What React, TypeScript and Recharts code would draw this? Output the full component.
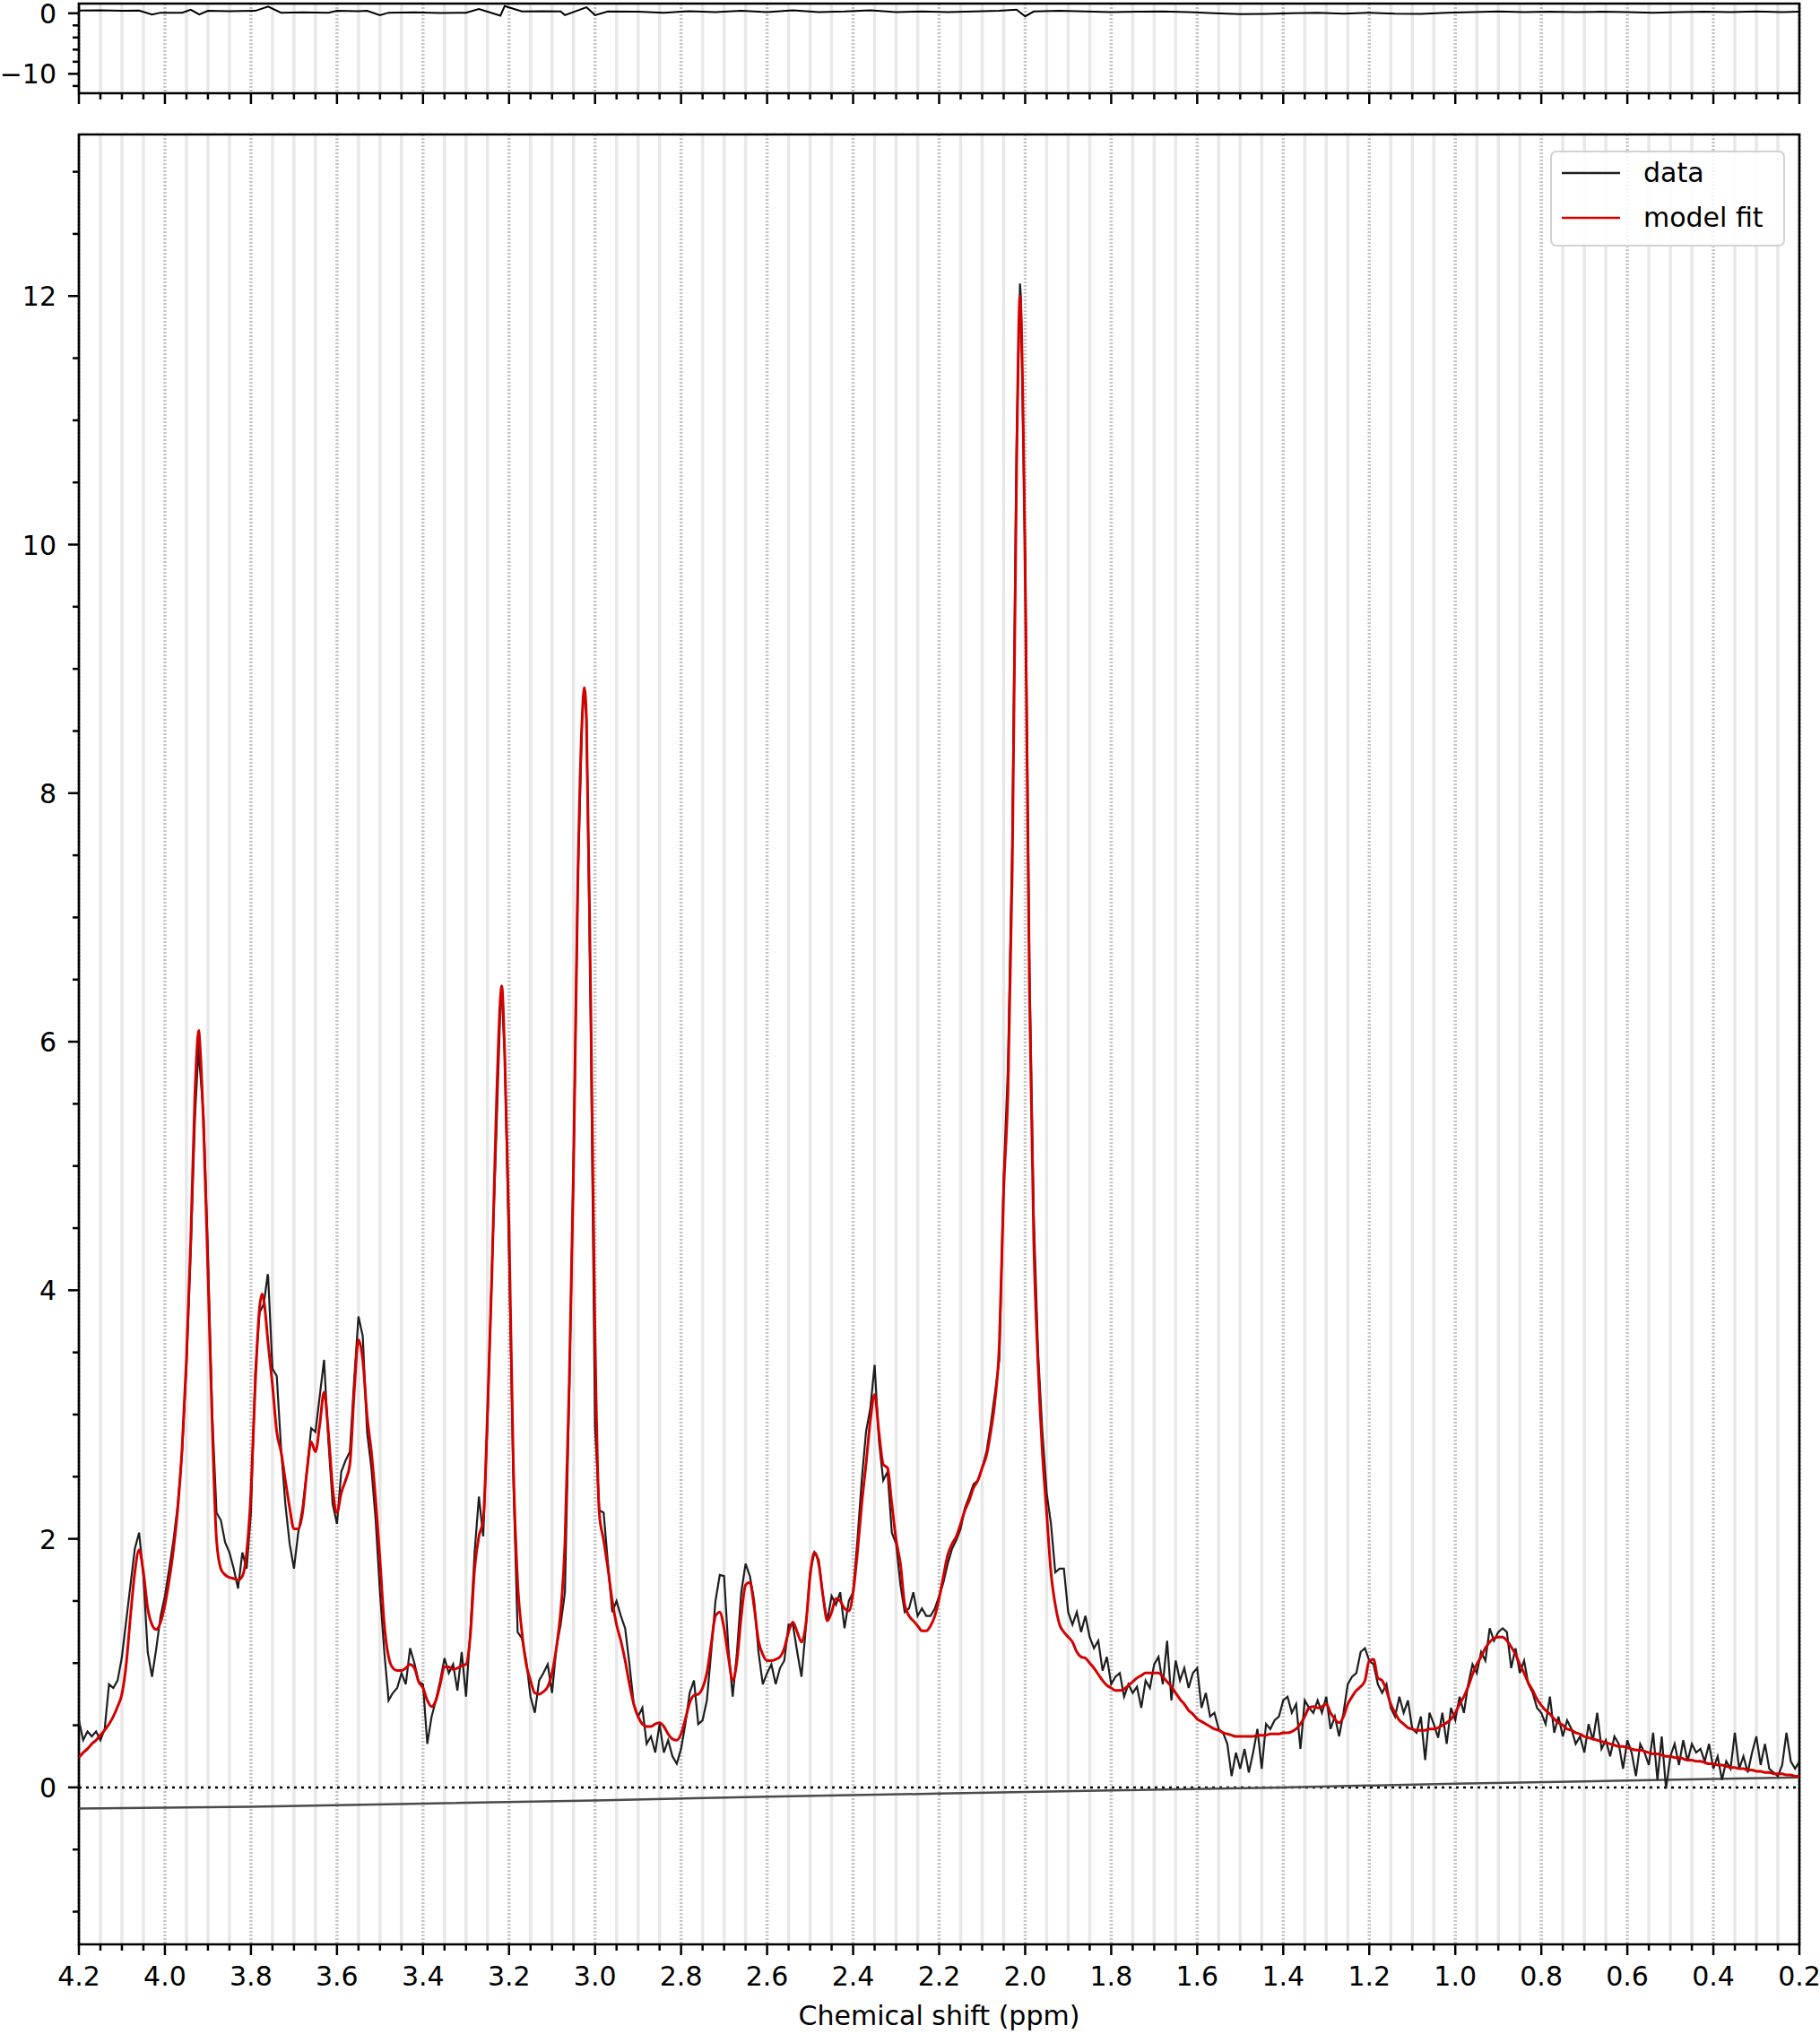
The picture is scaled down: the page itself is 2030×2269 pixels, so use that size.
import React from "react";
import {
  LineChart,
  Line,
  XAxis,
  YAxis,
  CartesianGrid,
  ReferenceLine,
  ReferenceArea,
  Legend,
  Label,
} from "recharts";

const FONT = "'DejaVu Sans', sans-serif";
const DATA_COLOR = "#1e1e1e";
const FIT_COLOR = "#d40000";

// spectrum sampled every 0.01 ppm, from 4.20 down to 0.20
const PPM_MAX = 4.2;
const PPM_MIN = 0.2;
const PPM_STEP = 0.01;

// model fit (red)
const FIT = [
  0.24, 0.28, 0.31, 0.35, 0.38, 0.42, 0.46, 0.51, 0.57, 0.65, // 4.20
  0.75, 0.99, 1.38, 1.73, 1.91, 1.73, 1.44, 1.31, 1.27, 1.33, // 4.10
  1.47, 1.67, 1.92, 2.25, 2.73, 3.44, 4.4, 5.6, 6.05, 5.3, // 4.00
  4.15, 2.92, 1.99, 1.76, 1.71, 1.69, 1.68, 1.67, 1.7, 1.89, // 3.90
  2.37, 3.24, 3.86, 3.92, 3.57, 3.24, 2.86, 2.7, 2.47, 2.25, // 3.80
  2.08, 2.08, 2.21, 2.54, 2.78, 2.7, 2.92, 3.18, 2.86, 2.41, // 3.70
  2.21, 2.37, 2.47, 2.6, 3.18, 3.6, 3.44, 2.99, 2.7, 2.31, // 3.60
  1.83, 1.31, 1.05, 0.96, 0.94, 0.94, 0.96, 0.99, 0.96, 0.85, // 3.50
  0.8, 0.7, 0.65, 0.7, 0.83, 0.97, 0.97, 0.95, 0.96, 0.98, // 3.40
  0.99, 1.22, 1.76, 2.02, 2.15, 3.02, 4.1, 5.4, 6.35, 5.9, // 3.30
  4.5, 2.6, 1.65, 1.25, 0.99, 0.86, 0.76, 0.75, 0.77, 0.81, // 3.20
  0.92, 1.12, 1.41, 1.96, 3.24, 5.0, 7.3, 8.6, 8.6, 6.3, // 3.10
  3.6, 2.2, 1.99, 1.76, 1.5, 1.31, 1.18, 1.02, 0.83, 0.67, // 3.00
  0.57, 0.51, 0.49, 0.49, 0.51, 0.52, 0.49, 0.43, 0.39, 0.38, // 2.90
  0.43, 0.55, 0.68, 0.74, 0.75, 0.8, 0.92, 1.15, 1.38, 1.41, // 2.80
  1.28, 1.05, 0.86, 1.02, 1.38, 1.63, 1.65, 1.45, 1.18, 1.07, // 2.70
  1.02, 1.02, 1.03, 1.05, 1.12, 1.25, 1.33, 1.25, 1.17, 1.31, // 2.60
  1.7, 1.89, 1.8, 1.54, 1.34, 1.41, 1.52, 1.5, 1.44, 1.42, // 2.50
  1.57, 1.89, 2.28, 2.6, 2.95, 3.16, 2.86, 2.6, 2.57, 2.28, // 2.40
  1.99, 1.8, 1.47, 1.38, 1.34, 1.3, 1.26, 1.26, 1.3, 1.38, // 2.30
  1.52, 1.7, 1.87, 1.96, 2.02, 2.12, 2.23, 2.31, 2.41, 2.47, // 2.20
  2.57, 2.67, 2.86, 3.12, 3.57, 4.8, 5.6, 7.4, 10.6, 11.9, // 2.10
  9.8, 6.4, 4.4, 3.4, 2.7, 2.21, 1.73, 1.47, 1.31, 1.25, // 2.00
  1.21, 1.17, 1.09, 1.05, 1.04, 1.0, 0.96, 0.91, 0.86, 0.82, // 1.90
  0.8, 0.78, 0.78, 0.79, 0.82, 0.85, 0.88, 0.9, 0.92, 0.92, // 1.80
  0.92, 0.92, 0.89, 0.85, 0.81, 0.76, 0.71, 0.67, 0.62, 0.59, // 1.70
  0.55, 0.53, 0.51, 0.49, 0.47, 0.46, 0.44, 0.43, 0.42, 0.41, // 1.60
  0.41, 0.41, 0.41, 0.41, 0.42, 0.42, 0.42, 0.43, 0.43, 0.43, // 1.50
  0.44, 0.44, 0.45, 0.47, 0.51, 0.57, 0.64, 0.65, 0.64, 0.65, // 1.40
  0.67, 0.6, 0.55, 0.52, 0.57, 0.67, 0.73, 0.78, 0.81, 0.86, // 1.30
  1.02, 1.03, 0.88, 0.86, 0.78, 0.67, 0.6, 0.54, 0.51, 0.48, // 1.20
  0.47, 0.46, 0.46, 0.46, 0.47, 0.47, 0.48, 0.5, 0.52, 0.55, // 1.10
  0.6, 0.67, 0.73, 0.81, 0.91, 0.99, 1.05, 1.12, 1.17, 1.2, // 1.00
  1.21, 1.21, 1.18, 1.13, 1.07, 0.99, 0.92, 0.84, 0.78, 0.71, // 0.90
  0.66, 0.62, 0.59, 0.55, 0.52, 0.5, 0.47, 0.46, 0.44, 0.43, // 0.80
  0.41, 0.4, 0.39, 0.38, 0.37, 0.36, 0.35, 0.34, 0.33, 0.33, // 0.70
  0.32, 0.31, 0.3, 0.3, 0.29, 0.28, 0.27, 0.27, 0.26, 0.25, // 0.60
  0.25, 0.24, 0.24, 0.23, 0.22, 0.22, 0.21, 0.21, 0.2, 0.19, // 0.50
  0.19, 0.18, 0.18, 0.17, 0.16, 0.16, 0.15, 0.15, 0.14, 0.14, // 0.40
  0.13, 0.13, 0.12, 0.12, 0.11, 0.11, 0.11, 0.1, 0.1, 0.09, // 0.30
  0.09, // 0.20
];

// measured spectrum (black)
const DATA = [
  0.54, 0.38, 0.45, 0.41, 0.45, 0.38, 0.47, 0.83, 0.8, 0.86, // 4.20
  1.05, 1.34, 1.63, 1.92, 2.05, 1.7, 1.09, 0.89, 1.12, 1.38, // 4.10
  1.54, 1.76, 1.99, 2.28, 2.7, 3.4, 4.31, 5.4, 5.85, 5.4, // 4.00
  4.3, 3.0, 2.21, 2.15, 1.97, 1.89, 1.76, 1.6, 1.89, 1.76, // 3.90
  2.21, 3.34, 3.82, 3.89, 4.11, 3.37, 3.31, 2.73, 2.28, 1.96, // 3.80
  1.76, 2.05, 2.25, 2.54, 2.89, 2.86, 3.15, 3.44, 2.79, 2.28, // 3.70
  2.12, 2.54, 2.63, 2.7, 3.28, 3.79, 3.63, 2.86, 2.57, 2.15, // 3.60
  1.57, 1.09, 0.7, 0.76, 0.8, 0.92, 0.83, 1.12, 1.0, 0.85, // 3.50
  0.83, 0.35, 0.57, 0.7, 0.86, 1.04, 0.92, 0.99, 0.78, 1.09, // 3.40
  0.73, 1.25, 1.89, 2.34, 2.02, 2.95, 4.15, 5.2, 6.3, 5.9, // 3.30
  4.3, 2.5, 1.25, 1.2, 1.02, 0.73, 0.6, 0.86, 0.92, 0.99, // 3.20
  0.76, 1.12, 1.31, 1.57, 3.18, 5.0, 7.3, 8.6, 8.6, 6.2, // 3.10
  2.9, 2.23, 2.21, 1.8, 1.41, 1.5, 1.38, 1.28, 0.99, 0.67, // 3.00
  0.57, 0.64, 0.35, 0.41, 0.28, 0.51, 0.28, 0.38, 0.25, 0.19, // 2.90
  0.31, 0.51, 0.76, 0.86, 0.51, 0.54, 0.7, 1.09, 1.5, 1.71, // 2.80
  1.7, 1.12, 0.73, 1.09, 1.57, 1.8, 1.7, 1.5, 1.09, 0.83, // 2.70
  0.92, 0.99, 0.83, 0.96, 1.02, 1.31, 1.31, 1.09, 0.89, 1.28, // 2.60
  1.73, 1.89, 1.83, 1.54, 1.34, 1.54, 1.47, 1.57, 1.28, 1.5, // 2.50
  1.57, 1.99, 2.47, 2.86, 3.05, 3.4, 2.79, 2.47, 2.54, 2.05, // 2.40
  1.96, 1.63, 1.41, 1.44, 1.57, 1.38, 1.44, 1.38, 1.38, 1.44, // 2.30
  1.54, 1.65, 1.8, 1.92, 1.99, 2.08, 2.25, 2.34, 2.44, 2.47, // 2.20
  2.57, 2.7, 2.92, 3.18, 3.44, 4.9, 5.8, 7.6, 10.8, 12.0, // 2.10
  9.9, 6.6, 4.6, 3.5, 2.86, 2.37, 2.12, 1.73, 1.76, 1.76, // 2.00
  1.41, 1.31, 1.41, 1.25, 1.38, 1.21, 1.12, 1.18, 0.94, 1.05, // 1.90
  0.83, 0.89, 0.92, 0.73, 0.83, 0.76, 0.81, 0.64, 0.86, 0.8, // 1.80
  0.99, 1.05, 0.83, 1.18, 0.7, 1.02, 0.86, 0.96, 0.8, 0.92, // 1.70
  0.96, 0.64, 0.76, 0.57, 0.6, 0.47, 0.44, 0.35, 0.09, 0.28, // 1.60
  0.15, 0.31, 0.12, 0.28, 0.47, 0.15, 0.51, 0.47, 0.54, 0.57, // 1.50
  0.7, 0.73, 0.6, 0.67, 0.31, 0.7, 0.64, 0.6, 0.7, 0.6, // 1.40
  0.73, 0.47, 0.57, 0.41, 0.6, 0.83, 0.89, 0.92, 1.09, 1.12, // 1.30
  1.02, 0.99, 0.83, 0.76, 0.83, 0.64, 0.57, 0.73, 0.6, 0.7, // 1.20
  0.47, 0.44, 0.57, 0.22, 0.6, 0.51, 0.4, 0.6, 0.35, 0.64, // 1.10
  0.54, 0.73, 0.6, 0.83, 0.99, 0.92, 1.09, 1.02, 1.28, 1.18, // 1.00
  1.25, 1.28, 1.25, 0.96, 1.12, 0.92, 1.02, 0.83, 0.76, 0.64, // 0.90
  0.6, 0.51, 0.73, 0.44, 0.57, 0.41, 0.54, 0.47, 0.35, 0.41, // 0.80
  0.28, 0.51, 0.38, 0.6, 0.31, 0.38, 0.25, 0.41, 0.35, 0.15, // 0.70
  0.38, 0.28, 0.09, 0.35, 0.28, 0.18, 0.44, 0.06, 0.41, -0.01, // 0.60
  0.25, 0.35, 0.18, 0.38, 0.21, 0.35, 0.28, 0.31, 0.21, 0.35, // 0.50
  0.15, 0.25, 0.06, 0.21, 0.15, 0.44, 0.15, 0.25, 0.12, 0.28, // 0.40
  0.41, 0.18, 0.35, 0.15, 0.12, 0.09, 0.18, 0.44, 0.21, 0.15, // 0.30
  0.21, // 0.20
];

// tops of the narrow peaks, [ppm, value]
const FIT_APEX = [
  [3.921, 6.09],
  [3.774, 3.97],
  [3.217, 6.45],
  [3.025, 8.85],
  [2.012, 12.0],
];
const DATA_APEX = [
  [3.921, 6.0],
  [3.761, 4.13],
  [3.217, 6.4],
  [3.025, 8.85],
  [2.012, 12.1],
];

// fitted baseline (thin grey line under the spectrum)
const BASELINE = [
  [4.2, -0.17], [3.8, -0.155], [3.4, -0.13], [3.0, -0.105], [2.6, -0.075],
  [2.2, -0.05], [1.8, -0.025], [1.4, 0.0], [1.0, 0.03], [0.6, 0.055], [0.2, 0.08],
];

// residual shown in the small top panel
const RESIDUAL = [
  [4.2, 0.45], [4.15, 0.5], [4.1, 0.4], [4.06, 0.45], [4.03, -0.2], [4.01, 0.1],
  [3.96, 0.1], [3.94, 0.6], [3.92, -0.2], [3.9, 0.4], [3.85, 0.35], [3.79, 0.4],
  [3.76, 1.1], [3.73, 0.1], [3.68, 0.15], [3.62, 0.1], [3.6, 0.4], [3.55, 0.35],
  [3.53, 0.4], [3.5, -0.3], [3.48, 0.1], [3.42, 0.15], [3.36, 0.05], [3.3, 0.1],
  [3.27, 0.7], [3.22, -0.4], [3.21, 1.2], [3.17, 0.3], [3.12, 0.35], [3.08, 0.3],
  [3.07, -0.3], [3.02, 1.0], [3.0, -0.3], [2.97, 0.3], [2.9, 0.25], [2.84, 0.1],
  [2.78, 0.35], [2.72, 0.2], [2.66, 0.4], [2.6, 0.2], [2.54, 0.5], [2.48, 0.2],
  [2.42, 0.3], [2.36, 0.5], [2.3, 0.2], [2.24, 0.3], [2.18, 0.2], [2.12, 0.3],
  [2.06, 0.4], [2.02, 0.6], [2.0, -0.5], [1.98, 0.3], [1.92, 0.4], [1.86, 0.3],
  [1.8, 0.2], [1.74, 0.25], [1.68, 0.3], [1.62, 0.2], [1.56, 0.0], [1.5, -0.15],
  [1.44, -0.1], [1.38, 0.0], [1.32, 0.1], [1.26, -0.05], [1.2, 0.1], [1.14, -0.05],
  [1.08, -0.1], [1.02, 0.1], [0.96, 0.2], [0.9, 0.3], [0.84, 0.2], [0.78, 0.25],
  [0.72, 0.2], [0.66, 0.25], [0.6, 0.2], [0.54, 0.1], [0.48, 0.2], [0.42, 0.25],
  [0.36, 0.2], [0.3, 0.3], [0.24, 0.2], [0.2, 0.25],
];

const X_MAJOR = [4.2, 4.0, 3.8, 3.6, 3.4, 3.2, 3.0, 2.8, 2.6, 2.4, 2.2, 2.0, 1.8, 1.6, 1.4, 1.2, 1.0, 0.8, 0.6, 0.4, 0.2];
const Y_MAIN_LABELS = [0, 2, 4, 6, 8, 10, 12];
const Y_RES_LABELS = [0, -10];
const Y_MAIN_DOMAIN = [-1.263, 13.3];
const Y_RES_DOMAIN = [-13.2, 1.6];

const LEGEND_ITEMS = [
  { label: "data", color: DATA_COLOR },
  { label: "model fit", color: FIT_COLOR },
];

// ---- helpers
const r3 = (v: number) => Math.round(v * 1000) / 1000;
const near = (a: number, b: number) => Math.abs(a - b) < 1e-6;

// minor ticks: every 0.05 ppm / every 0.5 (main) / every 2 (residual)
const X_TICKS: number[] = [];
for (let i = 4; i <= 84; i++) X_TICKS.push(r3(i * 0.05));
const X_MINOR = X_TICKS.filter((v) => !X_MAJOR.some((m) => near(m, v)));
const Y_MAIN_TICKS: number[] = [];
for (let i = -2; i <= 26; i++) Y_MAIN_TICKS.push(i * 0.5);
const Y_RES_TICKS = [-12, -10, -8, -6, -4, -2, 0];

const toSeries = (vals: number[], apex: number[][]) =>
  [
    ...vals.map((y, i) => ({ x: r3(PPM_MAX - i * PPM_STEP), y })),
    ...apex.map(([x, y]) => ({ x, y })),
  ].sort((a, b) => b.x - a.x);
const pairs = (arr: number[][]) => arr.map(([x, y]) => ({ x, y }));

const fitSeries = toSeries(FIT, FIT_APEX);
const dataSeries = toSeries(DATA, DATA_APEX);
const baseSeries = pairs(BASELINE);
const resSeries = pairs(RESIDUAL);

const gridAt = (vals: number[]) => ({ xAxis, offset }: any) => {
  if (xAxis && typeof xAxis.scale === "function") return vals.map((v) => xAxis.scale(v));
  return vals.map((v) => offset.left + ((PPM_MAX - v) / (PPM_MAX - PPM_MIN)) * offset.width);
};

const XTick = ({ x, y, payload, showLabel }: any) => {
  const v = payload.value;
  const major = X_MAJOR.some((m) => near(m, v));
  return (
    <g>
      <line x1={x} x2={x} y1={y} y2={y + (major ? 12 : 7)} stroke="#000" strokeWidth={2.5} />
      {showLabel && major && (
        <text x={x} y={y + 46} textAnchor="middle" fontSize={30} fontFamily={FONT} fill="#000">
          {v.toFixed(1)}
        </text>
      )}
    </g>
  );
};

const YTick = ({ x, y, payload, labels }: any) => {
  const v = payload.value;
  const major = labels.some((m: number) => near(m, v));
  return (
    <g>
      <line x1={x - (major ? 12 : 7)} x2={x} y1={y} y2={y} stroke="#000" strokeWidth={2.5} />
      {major && (
        <text x={x - 25} y={y + 11} textAnchor="end" fontSize={30} fontFamily={FONT} fill="#000">
          {String(v).replace("-", "\u2212")}
        </text>
      )}
    </g>
  );
};

const LegendBox = () => (
  <div
    style={{
      width: 262,
      height: 107,
      boxSizing: "border-box",
      border: "2px solid #d2d2d2",
      borderRadius: 7,
      background: "rgba(255,255,255,0.85)",
    }}
  >
    <svg width={258} height={103}>
      {LEGEND_ITEMS.map((it, i) => (
        <g key={it.label}>
          <line x1={11} x2={76} y1={23 + i * 50} y2={23 + i * 50} stroke={it.color} strokeWidth={2.5} />
          <text x={102} y={33 + i * 50} fontSize={30} fontFamily={FONT} fill="#000">
            {it.label}
          </text>
        </g>
      ))}
    </svg>
  </div>
);

export default function App() {
  const frame = { fill: "none", stroke: "#000", strokeWidth: 2.6, fillOpacity: 0 };
  return (
    <div style={{ position: "absolute", left: 0, top: 0, width: 2030, height: 2269, background: "#fff", fontFamily: FONT }}>
      {/* residual panel */}
      <div style={{ position: "absolute", left: 0, top: 0 }}>
        <LineChart width={2030} height={140} margin={{ top: 4, right: 23, bottom: 0, left: 0 }}>
          <CartesianGrid horizontal={false} verticalCoordinatesGenerator={gridAt(X_MINOR)} stroke="#e8e8e8" strokeWidth={3.5} />
          <CartesianGrid horizontal={false} verticalCoordinatesGenerator={gridAt(X_MAJOR)} stroke="#c4c4c4" strokeWidth={3.5} strokeDasharray="2 2" />
          <XAxis
            dataKey="x"
            type="number"
            domain={[PPM_MIN, PPM_MAX]}
            reversed
            ticks={X_TICKS}
            interval={0}
            height={36}
            tickSize={0}
            tickMargin={0}
            tickLine={false}
            axisLine={false}
            tick={(p: any) => <XTick {...p} showLabel={false} />}
            allowDataOverflow
          />
          <YAxis
            type="number"
            domain={Y_RES_DOMAIN}
            ticks={Y_RES_TICKS}
            interval={0}
            width={88}
            tickSize={0}
            tickMargin={0}
            tickLine={false}
            axisLine={false}
            tick={(p: any) => <YTick {...p} labels={Y_RES_LABELS} />}
            allowDataOverflow
          />
          <Line data={resSeries} dataKey="y" type="linear" stroke="#000" strokeWidth={2} dot={false} activeDot={false} isAnimationActive={false} />
          <ReferenceArea x1={PPM_MAX} x2={PPM_MIN} y1={Y_RES_DOMAIN[0]} y2={Y_RES_DOMAIN[1]} {...frame} ifOverflow="visible" />
        </LineChart>
      </div>

      {/* main spectrum panel */}
      <div style={{ position: "absolute", left: 0, top: 140 }}>
        <LineChart width={2030} height={2129} margin={{ top: 10, right: 23, bottom: 0, left: 0 }}>
          <CartesianGrid horizontal={false} verticalCoordinatesGenerator={gridAt(X_MINOR)} stroke="#e8e8e8" strokeWidth={3.5} />
          <CartesianGrid horizontal={false} verticalCoordinatesGenerator={gridAt(X_MAJOR)} stroke="#c4c4c4" strokeWidth={3.5} strokeDasharray="2 2" />
          <XAxis
            dataKey="x"
            type="number"
            domain={[PPM_MIN, PPM_MAX]}
            reversed
            ticks={X_TICKS}
            interval={0}
            height={100}
            tickSize={0}
            tickMargin={0}
            tickLine={false}
            axisLine={false}
            tick={(p: any) => <XTick {...p} showLabel />}
            allowDataOverflow
          >
            <Label value="Chemical shift (ppm)" position="insideBottom" offset={10} fontSize={30} fontFamily={FONT} fill="#000" />
          </XAxis>
          <YAxis
            type="number"
            domain={Y_MAIN_DOMAIN}
            ticks={Y_MAIN_TICKS}
            interval={0}
            width={88}
            tickSize={0}
            tickMargin={0}
            tickLine={false}
            axisLine={false}
            tick={(p: any) => <YTick {...p} labels={Y_MAIN_LABELS} />}
            allowDataOverflow
          />
          <ReferenceLine y={0} stroke="#000" strokeWidth={2.5} strokeDasharray="3 5" />
          <Line data={baseSeries} dataKey="y" type="linear" stroke="#4a4a4a" strokeWidth={2.5} dot={false} activeDot={false} isAnimationActive={false} />
          <Line data={dataSeries} dataKey="y" type="linear" stroke={DATA_COLOR} strokeWidth={2.2} dot={false} activeDot={false} isAnimationActive={false} />
          <Line data={fitSeries} dataKey="y" type="monotone" stroke={FIT_COLOR} strokeWidth={3} dot={false} activeDot={false} isAnimationActive={false} />
          <ReferenceArea x1={PPM_MAX} x2={PPM_MIN} y1={Y_MAIN_DOMAIN[0]} y2={Y_MAIN_DOMAIN[1]} {...frame} ifOverflow="visible" />
          <Legend
            layout="vertical"
            align="center"
            verticalAlign="middle"
            content={() => <LegendBox />}
            wrapperStyle={{ left: 1729, top: 28, width: 262, height: 107 }}
          />
        </LineChart>
      </div>
    </div>
  );
}
